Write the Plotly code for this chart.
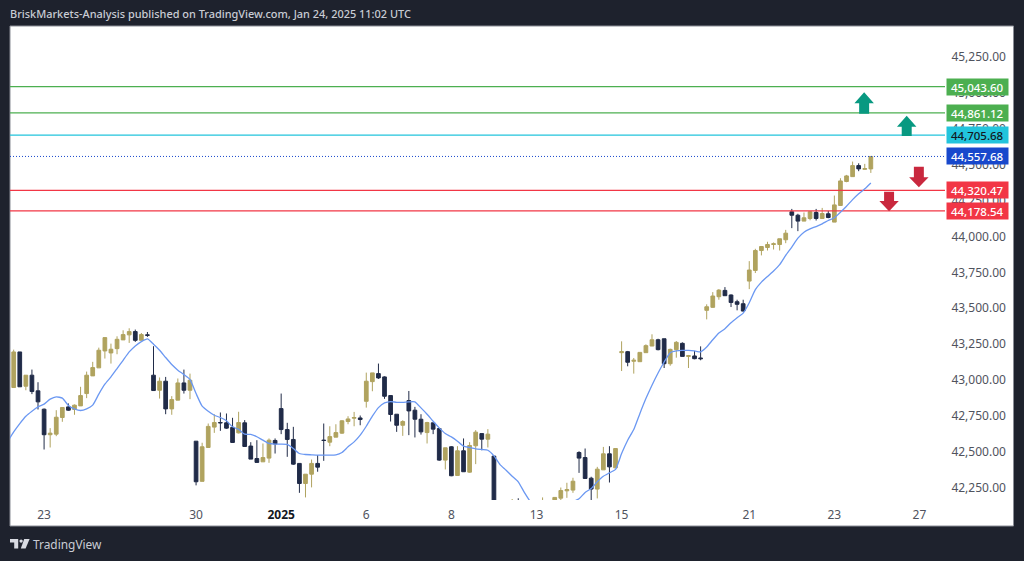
import plotly.graph_objects as go

W, H = 1024, 561
PLOT_L, PLOT_R, PLOT_T, PLOT_B = 10, 945, 26, 500
X_MIN, X_MAX = -0.608, 153.2
Y_MIN, Y_MAX = 42163, 45467

opens = [42947,43195,42956,43033,42924,42796,42618,42622,42738,42812,
 42794,42819,42905,43028,43084,43202,43188,43218,43279,43314,
 43337,43276,43314,43033,42928,42991,42798,42859,42979,42928,
 42573,42293,42529,42671,42703,42701,42669,42631,42701,42539,
 42452,42429,42455,42578,42800,42654,42585,42418,42278,42343,
 42418,42580,42566,42601,42629,42710,42733,42735,42851,42988,
 43044,43021,42891,42761,42684,42856,42789,42726,42633,42701,
 42661,42441,42534,42334,42506,42357,42541,42626,42587,42469,
 42090,42020,42100,42120,42060,42040,42020,42090,42120,42130,
 42176,42227,42232,42494,42459,42315,42239,42373,42485,42387,
 43190,43197,43130,43127,43190,43236,43280,43287,43113,43211,
 43255,43164,43167,43153,43485,43506,43580,43624,43592,43545,
 43531,43689,43763,43902,43923,43944,43944,43977,44172,44148,
 44107,44125,44167,44125,44158,44100,44216,44383,44417,44494,
 44468,44471]
highs = [43211,43195,43033,43072,42984,42801,42664,42789,42808,42836,
 42829,42952,43058,43126,43225,43295,43253,43304,43346,43360,
 43351,43327,43334,43235,43017,43021,42887,43010,43072,43044,
 42573,42562,42696,42761,42773,42766,42736,42778,42720,42566,
 42580,42557,42592,42592,42905,42701,42673,42418,42343,42445,
 42476,42696,42677,42691,42719,42747,42777,42752,43051,43049,
 43114,43025,42891,42761,42719,42923,42812,42761,42708,42701,
 42661,42527,42538,42538,42592,42566,42650,42626,42657,42469,
 42120,42130,42170,42175,42100,42090,42110,42181,42150,42181,
 42250,42283,42318,42503,42522,42325,42394,42533,42538,42522,
 43269,43202,43153,43192,43248,43318,43287,43287,43218,43271,
 43262,43174,43202,43234,43527,43612,43633,43647,43596,43559,
 43559,43828,43914,43930,43963,43958,43984,44046,44192,44158,
 44167,44176,44192,44199,44178,44285,44406,44429,44522,44510,
 44506,44558]
lows = [42947,42952,42928,42901,42794,42515,42529,42608,42708,42785,
 42757,42819,42873,43028,43084,43149,43114,43179,43279,43258,
 43265,43276,43300,42926,42870,42761,42757,42859,42905,42866,
 42265,42293,42529,42631,42645,42659,42564,42627,42536,42448,
 42425,42429,42422,42487,42622,42464,42408,42213,42181,42251,
 42360,42436,42538,42601,42624,42691,42677,42684,42807,42921,
 43007,42868,42710,42638,42610,42615,42599,42619,42557,42622,
 42436,42376,42329,42334,42360,42353,42413,42510,42529,42060,
 42000,41980,42050,42030,41990,41980,41990,42050,42060,42100,
 42150,42178,42213,42352,42313,42140,42174,42373,42285,42387,
 43062,43095,43044,43127,43190,43236,43206,43083,43099,43155,
 43164,43083,43144,43137,43422,43503,43559,43587,43508,43485,
 43476,43633,43745,43868,43902,43909,43902,43953,44058,44037,
 44107,44113,44111,44125,44127,44100,44216,44378,44417,44455,
 44468,44443]
closes = [43195,42952,43033,42919,42847,42618,42629,42740,42808,42789,
 42824,42891,43033,43086,43207,43295,43214,43283,43316,43337,
 43276,43316,43311,42926,42991,42798,42863,42979,42928,42998,
 42290,42534,42676,42703,42701,42664,42564,42703,42536,42448,
 42425,42459,42580,42554,42654,42585,42413,42278,42343,42418,
 42392,42578,42605,42633,42715,42728,42738,42724,42991,43049,
 43014,42886,42759,42684,42710,42784,42726,42638,42703,42657,
 42441,42527,42332,42506,42360,42543,42636,42587,42622,42090,
 42020,42100,42120,42060,42040,42020,42090,42120,42130,42181,
 42229,42236,42294,42455,42313,42239,42378,42485,42394,42522,
 43197,43123,43137,43192,43239,43280,43211,43113,43213,43262,
 43164,43169,43148,43148,43510,43585,43626,43587,43540,43527,
 43480,43766,43902,43930,43944,43949,43984,44023,44148,44107,
 44130,44172,44125,44160,44132,44220,44387,44422,44494,44471,
 44473,44557.68]

# moving average, first value belongs to the bar left of the first candle
ma_values = [42569,42638,42696,42747,42782,42812,42831,42866,42882,42873,42822,
 42798,42787,42798,42824,42901,42970,43021,43079,43137,43195,
 43237,43267,43286,43249,43207,43156,43107,43068,43037,43003,
 42905,42817,42782,42754,42738,42715,42673,42655,42622,42620,
 42604,42580,42557,42552,42552,42550,42522,42487,42480,42478,
 42476,42476,42476,42478,42494,42534,42568,42615,42677,42747,
 42807,42840,42849,42844,42844,42847,42847,42805,42761,42712,
 42666,42626,42603,42573,42538,42529,42520,42515,42510,42471,
 42410,42371,42329,42290,42216,42151,42100,42060,42020,42010,
 42040,42110,42150,42171,42216,42243,42290,42329,42352,42376,
 42487,42580,42654,42765,42870,42963,43048,43125,43190,43202,
 43206,43206,43202,43195,43229,43280,43327,43357,43399,43434,
 43466,43538,43629,43682,43721,43759,43803,43868,43926,43988,
 44030,44053,44069,44088,44111,44130,44169,44211,44257,44297,
 44332,44373]

x_tick_pos = [5, 30, 44, 58, 72, 86, 100, 121, 135, 149]
x_tick_text = ["23", "30", '<span style="color:#131722"><b>2025</b></span>', "6", "8", "13", "15", "21", "23", "27"]
y_ticks = [42250 + 250 * k for k in range(13)]

level_values = [45043.60, 44861.12, 44705.68, 44557.68, 44320.47, 44178.54]
level_colors = ["#4caf50", "#4caf50", "#22c4dc", "#1848cc", "#f23645", "#f23645"]
level_text = ["#ffffff", "#ffffff", "#131722", "#ffffff", "#ffffff", "#ffffff"]

# arrow: centre bar, tip price, head base price, tail price, colour
arrows = [
    (139.9, 45005, 44928, 44856, "#089981"),
    (146.9, 44842, 44765, 44700, "#089981"),
    (148.9, 44343, 44413, 44486, "#c9283e"),
    (144.0, 44176, 44247, 44312, "#c9283e"),
]

FONT = "Noto Sans"
DARK = "#1e222d"
GOLD = "#b0a35f"
NAVY = "#202b48"

idx = list(range(len(opens)))
fig = go.Figure()

for v, c in zip(level_values, level_colors):
    dotted = c == "#1848cc"
    fig.add_trace(go.Scatter(x=[X_MIN, X_MAX], y=[v, v], mode="lines", hoverinfo="skip",
                             line=dict(color=c, width=1 if dotted else 1.25, dash="1px,2px" if dotted else "solid")))

fig.add_trace(go.Candlestick(x=idx, open=opens, high=highs, low=lows, close=closes,
                             whiskerwidth=0,
                             increasing=dict(line=dict(color=GOLD, width=1), fillcolor=GOLD),
                             decreasing=dict(line=dict(color=NAVY, width=1), fillcolor=NAVY)))
fig.add_trace(go.Scatter(x=list(range(-1, len(ma_values) - 1)), y=ma_values, mode="lines",
                         line=dict(color="#6b98f2", width=1.3, shape="spline", smoothing=0.5),
                         hoverinfo="skip"))

def px(x): return x / W
def py(y): return 1 - y / H

shapes = [dict(type="rect", xref="paper", yref="paper", x0=px(10), x1=px(1013.5), y0=py(26), y1=py(526),
               fillcolor="#ffffff", line=dict(color="#8a8d96", width=1), layer="below")]

for cx, tip, head, tail, col in arrows:
    hw, sw = 1.6, 0.82
    path = (f"M {cx} {tip} L {cx+hw} {head} L {cx+sw} {head} L {cx+sw} {tail} "
            f"L {cx-sw} {tail} L {cx-sw} {head} L {cx-hw} {head} Z")
    shapes.append(dict(type="path", path=path, xref="x", yref="y", fillcolor=col, line=dict(width=0)))

# logo
def paper_path(points):
    return "M " + " L ".join(f"{px(a)} {py(b)}" for a, b in points) + " Z"
for pts in ([(10,539),(18.2,539),(18.2,548.5),(14.2,548.5),(14.2,542.6),(10,542.6)],
            [(24.2,539),(29.6,539),(25.6,548.5),(20.8,548.5)]):
    shapes.append(dict(type="path", path=paper_path(pts), xref="paper", yref="paper",
                       fillcolor="#d9dbe2", line=dict(width=0)))
shapes.append(dict(type="circle", xref="paper", yref="paper", x0=px(19.4), x1=px(22.8), y0=py(542.8), y1=py(539.4),
                   fillcolor="#d9dbe2", line=dict(width=0)))

annotations = [
    dict(xref="paper", yref="paper", x=px(8), y=py(14), xanchor="left", yanchor="middle", showarrow=False,
         text="BriskMarkets-Analysis published on TradingView.com, Jan 24, 2025 11:02 UTC",
         font=dict(family=FONT, size=10.95, color="#c9ccd4", weight=500)),
    dict(xref="paper", yref="paper", x=px(31), y=py(544), xanchor="left", yanchor="middle", showarrow=False,
         text="TradingView", font=dict(family=FONT, size=11.9, color="#c9ccd4")),
]
for v, bg, tc in zip(level_values, level_colors, level_text):
    annotations.append(dict(xref="paper", yref="y", x=px(945.5), y=v, xanchor="left", yanchor="middle",
                            showarrow=False, text=f"{v:,.2f}", width=60.5, height=16, align="center",
                            bgcolor=bg, borderpad=0,
                            font=dict(family=FONT, size=11.5, color=tc, weight=500)))

fig.update_layout(
    width=W, height=H, margin=dict(l=0, r=0, t=0, b=0), autosize=False,
    paper_bgcolor=DARK, plot_bgcolor="#ffffff", showlegend=False,
    boxgap=0.22, boxgroupgap=0.22,
    font=dict(family=FONT, size=12, color="#50535e"),
    shapes=shapes, annotations=annotations,
    xaxis=dict(domain=[px(PLOT_L), px(PLOT_R)], range=[X_MIN, X_MAX], rangeslider=dict(visible=False),
               tickmode="array", tickvals=x_tick_pos, ticktext=x_tick_text, showgrid=False, zeroline=False,
               showline=False, ticks="outside", ticklen=4, tickcolor="rgba(0,0,0,0)",
               tickfont=dict(family=FONT, size=12, color="#50535e")),
    yaxis=dict(domain=[py(PLOT_B), py(PLOT_T)], range=[Y_MIN, Y_MAX], side="right",
               tickmode="array", tickvals=y_ticks, ticktext=[f"{v:,.2f}" for v in y_ticks],
               showgrid=False, zeroline=False, showline=False, ticks="outside", ticklen=3,
               tickcolor="rgba(0,0,0,0)", tickfont=dict(family=FONT, size=12, color="#50535e")),
)

fig.write_html("out.html", config=dict(displayModeBar=False),
               post_script="document.body.style.margin='0';document.body.style.background='#1e222d';")
